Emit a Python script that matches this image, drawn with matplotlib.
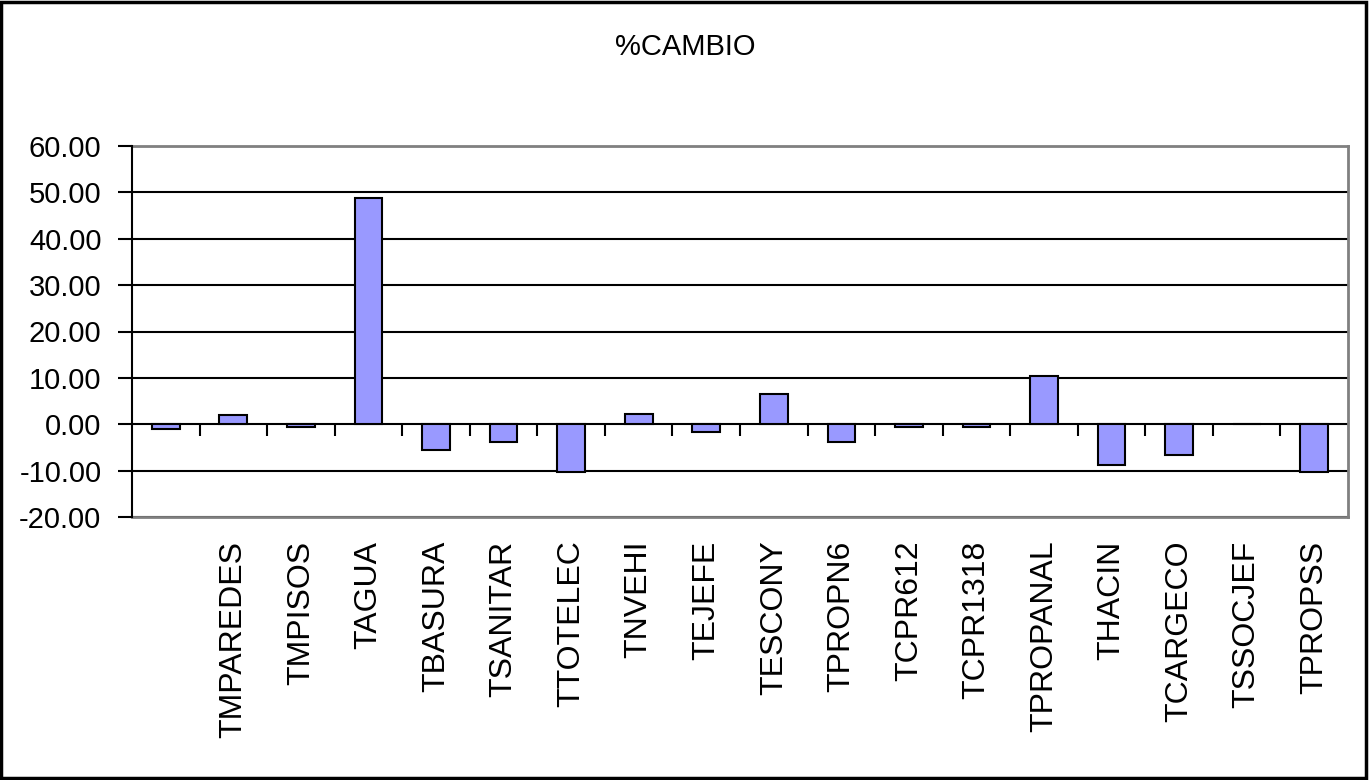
import matplotlib
matplotlib.use("Agg")
import matplotlib.pyplot as plt
from matplotlib.patches import Rectangle
from matplotlib.ticker import FormatStrFormatter

plt.rcParams['font.family'] = ['Liberation Sans', 'DejaVu Sans']
plt.rcParams['axes.unicode_minus'] = False

# data
categories = ['', 'TMPAREDES', 'TMPISOS', 'TAGUA', 'TBASURA', 'TSANITAR',
              'TTOTELEC', 'TNVEHI', 'TEJEFE', 'TESCONY', 'TPROPN6', 'TCPR612',
              'TCPR1318', 'TPROPANAL', 'THACIN', 'TCARGECO', 'TSSOCJEF', 'TPROPSS']
cambio = [-1.0, 2.1, -0.6, 48.8, -5.5, -3.8, -10.4, 2.2, -1.6, 6.5, -3.8,
          -0.5, -0.5, 10.4, -8.8, -6.6, 0.0, -10.4]
y_ticks = [-20, -10, 0, 10, 20, 30, 40, 50, 60]

fig = plt.figure(figsize=(13.69, 7.80), dpi=100)
ax = fig.add_axes([0.0964, 0.3372, 0.8883, 0.4756])

x = list(range(len(categories)))
ax.bar(x, cambio, width=0.41, color='#9999FF', edgecolor='black',
       linewidth=1.5, zorder=3)

ax.set_xlim(-0.5, len(categories) - 0.5)
ax.set_ylim(y_ticks[0], y_ticks[-1])
ax.set_yticks(y_ticks)
ax.yaxis.set_major_formatter(FormatStrFormatter('%.2f'))
ax.yaxis.grid(True, color='black', linewidth=1.5, zorder=1)
ax.tick_params(axis='y', labelsize=21, length=10, width=1.5, pad=12)

ax.set_xticks(x)
ax.set_xticklabels(categories, rotation=90, va='top', ha='center', fontsize=23)
ax.tick_params(axis='x', length=0, pad=17)

# category separator ticks hanging from the zero line
bounds = [i + 0.5 for i in x[:-1]]
ax.vlines(bounds, -2.6, 0, color='black', linewidth=1.5, zorder=2)

for side in ['top', 'right', 'bottom']:
    ax.spines[side].set_color('#808080')
    ax.spines[side].set_linewidth(2)
ax.spines['left'].set_color('black')
ax.spines['left'].set_linewidth(1.5)
ax.spines['left'].set_zorder(4)

fig.text(0.5004, 0.94, '%CAMBIO', ha='center', va='center', fontsize=21)

# outer chart border
fig.patches.append(Rectangle((0.001, 0.002), 0.997, 0.995, transform=fig.transFigure,
                             fill=False, edgecolor='black', linewidth=2.5))

fig.savefig('out.png', dpi=100)
